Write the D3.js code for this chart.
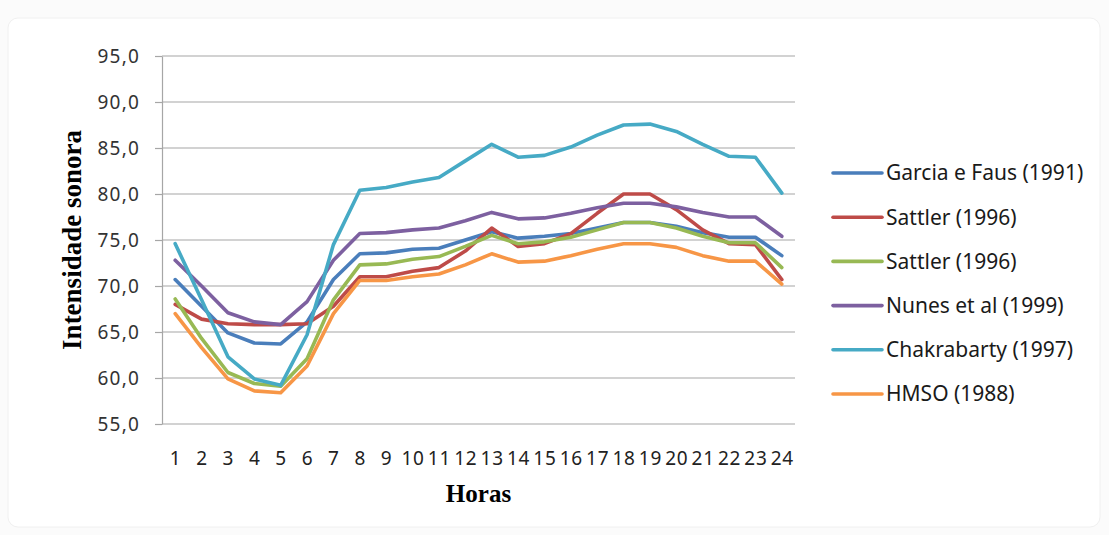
<!DOCTYPE html>
<html>
<head>
<meta charset="utf-8">
<script src="https://cdn.jsdelivr.net/npm/d3@7"></script>
<style>
  body { margin: 0; background: #fbfbfb; }
  svg { display: block; }
</style>
</head>
<body>
<svg id="chart"></svg>
<script>
// hours on the x axis
const hours = [1, 2, 3, 4, 5, 6, 7, 8, 9, 10, 11, 12, 13, 14, 15, 16, 17, 18, 19, 20, 21, 22, 23, 24];
const yTicks = [55, 60, 65, 70, 75, 80, 85, 90, 95];

const seriesNames = ["Garcia e Faus (1991)", "Sattler (1996)", "Sattler (1996)", "Nunes et al (1999)", "Chakrabarty (1997)", "HMSO (1988)"];

const garcia   = [70.7, 67.8, 64.9, 63.8, 63.7, 66.1, 70.7, 73.5, 73.6, 74.0, 74.1, 75.0, 75.9, 75.2, 75.4, 75.7, 76.3, 76.9, 76.9, 76.5, 75.8, 75.3, 75.3, 73.3];
const sattlerA = [68.0, 66.4, 65.9, 65.8, 65.8, 65.9, 67.8, 71.0, 71.0, 71.6, 72.0, 73.8, 76.3, 74.3, 74.6, 75.7, 77.9, 80.0, 80.0, 78.3, 76.1, 74.6, 74.5, 70.7];
const sattlerB = [68.6, 64.3, 60.6, 59.4, 59.1, 62.1, 68.5, 72.3, 72.4, 72.9, 73.2, 74.3, 75.5, 74.6, 74.8, 75.3, 76.1, 76.9, 76.9, 76.3, 75.4, 74.7, 74.7, 72.0];
const nunes    = [72.8, 70.0, 67.1, 66.1, 65.8, 68.3, 72.8, 75.7, 75.8, 76.1, 76.3, 77.1, 78.0, 77.3, 77.4, 77.9, 78.5, 79.0, 79.0, 78.6, 78.0, 77.5, 77.5, 75.4];
const chakra   = [74.6, 68.5, 62.3, 59.9, 59.2, 64.7, 74.5, 80.4, 80.7, 81.3, 81.8, 83.6, 85.4, 84.0, 84.2, 85.1, 86.4, 87.5, 87.6, 86.8, 85.4, 84.1, 84.0, 80.1];
const hmso     = [67.0, 63.3, 59.9, 58.6, 58.4, 61.3, 67.0, 70.6, 70.6, 71.0, 71.3, 72.3, 73.5, 72.6, 72.7, 73.3, 74.0, 74.6, 74.6, 74.2, 73.3, 72.7, 72.7, 70.2];

const colors = ["#4a7ebb", "#be4b48", "#98b954", "#7d60a0", "#46aac5", "#f79646"];

class lineChartHoras {
    constructor(_config, _data) {
        this.config = {
            parentElement: _config.parentElement,
            containerWidth: _config.containerWidth || 1109,
            containerHeight: _config.containerHeight || 535,
            margin: {top: 56, right: 314, bottom: 111, left: 162}
        }
        this.data = _data;
        this.initVis();
    }

    initVis() {
        let vis = this;

        vis.width = vis.config.containerWidth - vis.config.margin.left - vis.config.margin.right;
        vis.height = vis.config.containerHeight - vis.config.margin.top - vis.config.margin.bottom;

        vis.xScale = d3.scalePoint()
            .domain(hours)
            .range([0, vis.width])
            .padding(0.5);

        vis.yScale = d3.scaleLinear()
            .domain([55, 95])
            .range([vis.height, 0]);

        vis.xAxis = d3.axisBottom(vis.xScale)
            .tickSize(0)
            .tickPadding(28);

        vis.yAxis = d3.axisLeft(vis.yScale)
            .tickValues(yTicks)
            .tickSize(7)
            .tickSizeOuter(0)
            .tickPadding(15)
            .tickFormat(d => d.toFixed(1).replace(".", ","));

        vis.svg = d3.select(vis.config.parentElement)
            .attr('width', vis.config.containerWidth)
            .attr('height', vis.config.containerHeight);

        // chart area frame
        vis.svg.append('rect')
            .attr('x', 8).attr('y', 18)
            .attr('width', vis.config.containerWidth - 17)
            .attr('height', vis.config.containerHeight - 26)
            .attr('rx', 10)
            .attr('fill', '#fff')
            .attr('stroke', '#f0f0f0');

        vis.chart = vis.svg.append('g')
            .attr('transform', `translate(${vis.config.margin.left},${vis.config.margin.top})`);

        // gridlines
        vis.chart.append('g')
            .selectAll('line')
            .data(yTicks)
            .join('line')
            .attr('x1', 0)
            .attr('x2', vis.width)
            .attr('y1', d => vis.yScale(d))
            .attr('y2', d => vis.yScale(d))
            .attr('stroke', '#a6a6a6')
            .attr('stroke-width', 1.2);

        vis.xAxisG = vis.chart.append('g')
            .attr('class', 'axis x-axis')
            .attr('transform', `translate(0,${vis.height})`);

        vis.yAxisG = vis.chart.append('g')
            .attr('class', 'axis y-axis');

        vis.linesG = vis.chart.append('g');

        // axis titles
        vis.svg.append('text')
            .attr('transform', `translate(81,${vis.config.margin.top + vis.height / 2}) rotate(-90)`)
            .attr('text-anchor', 'middle')
            .style('font-family', '"Liberation Serif", "Times New Roman", serif')
            .style('font-weight', 'bold')
            .style('font-size', '27px')
            .attr('fill', '#000')
            .text('Intensidade sonora');

        vis.svg.append('text')
            .attr('x', vis.config.margin.left + vis.width / 2)
            .attr('y', 502)
            .attr('text-anchor', 'middle')
            .style('font-family', '"Liberation Serif", "Times New Roman", serif')
            .style('font-weight', 'bold')
            .style('font-size', '25px')
            .attr('fill', '#000')
            .text('Horas');

        vis.legendG = vis.svg.append('g')
            .attr('transform', 'translate(833,173)');

        vis.updateVis();
    }

    updateVis() {
        let vis = this;
        vis.line = d3.line()
            .x((d, i) => vis.xScale(hours[i]))
            .y(d => vis.yScale(d));
        vis.renderVis();
    }

    renderVis() {
        let vis = this;

        vis.linesG.selectAll('path')
            .data(vis.data)
            .join('path')
            .attr('d', d => vis.line(d.values))
            .attr('fill', 'none')
            .attr('stroke', d => d.color)
            .attr('stroke-width', 3.6)
            .attr('stroke-linejoin', 'round')
            .attr('stroke-linecap', 'round');

        vis.xAxisG.call(vis.xAxis);
        vis.xAxisG.select('.domain').remove();
        vis.xAxisG.selectAll('text')
            .style('font-family', '"Noto Sans", sans-serif')
            .style('font-size', '19px')
            .style('letter-spacing', '0.8px')
            .attr('fill', '#222');

        vis.yAxisG.call(vis.yAxis);
        vis.yAxisG.select('.domain').attr('stroke', '#a6a6a6').attr('stroke-width', 1.2);
        vis.yAxisG.selectAll('.tick line').attr('stroke', '#a6a6a6').attr('stroke-width', 1.2);
        vis.yAxisG.selectAll('text')
            .style('font-family', '"Noto Sans", sans-serif')
            .style('font-size', '19px')
            .style('letter-spacing', '1.2px')
            .attr('fill', '#333');

        const item = vis.legendG.selectAll('g')
            .data(vis.data)
            .join('g')
            .attr('transform', (d, i) => `translate(0,${i * 44.2})`);

        item.append('line')
            .attr('x1', 0).attr('x2', 49)
            .attr('stroke', d => d.color)
            .attr('stroke-width', 3.6)
            .attr('stroke-linecap', 'round');

        item.append('text')
            .attr('x', 53)
            .attr('dy', '0.35em')
            .style('font-family', '"Noto Sans", sans-serif')
            .style('font-size', '21px')
            .attr('fill', '#1a1a1a')
            .text(d => d.name);
    }
}

const allSeries = [garcia, sattlerA, sattlerB, nunes, chakra, hmso].map((values, i) => ({
    name: seriesNames[i],
    color: colors[i],
    values: values
}));

new lineChartHoras({parentElement: '#chart'}, allSeries);
</script>
</body>
</html>
